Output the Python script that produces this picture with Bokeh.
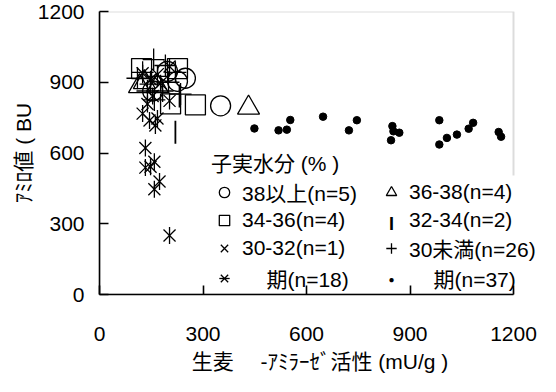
from bokeh.plotting import figure
from bokeh.models import Range1d, FixedTicker, Legend, LegendItem, Label, BoxAnnotation
from bokeh.embed import file_html
from bokeh.resources import INLINE
import math

# ---- data ----
g38_x = [249, 351, 197, 154, 226]
g38_y = [917, 800, 946, 863, 904]
g36_x = [116, 130, 168, 432]
g36_y = [883, 900, 883, 792]
g34_x = [122, 226, 206, 278]
g34_y = [958, 958, 808, 804]
g32_x = [220, 232]
g32_y = [688, 842]
g30_x = [168]
g30_y = [933]
glt_x = [157, 191, 125, 220, 168, 148, 200, 183, 235, 159, 139, 110]
glt_y = [996, 971, 942, 942, 925, 892, 900, 863, 850, 825, 863, 917]
ea_x = [125, 148, 177, 203, 154, 203, 139, 125, 145, 168, 133, 159, 133, 148, 174, 159, 203, 162]
ea_y = [938, 913, 896, 967, 842, 821, 808, 767, 738, 746, 621, 563, 538, 542, 479, 446, 250, 717]
la_x = [449, 519, 543, 553, 648, 723, 746, 849, 869, 845, 852, 985, 985, 1007, 1036, 1070, 1083, 1157, 1164]
la_y = [704, 696, 699, 740, 754, 696, 739, 714, 686, 654, 692, 739, 636, 664, 678, 703, 728, 689, 669]

x_ticks = [0, 300, 600, 900, 1200]
y_ticks = [0, 300, 600, 900, 1200]
X_MAX, Y_MAX = 1200, 1200

x_title = "生麦\u3000 -ｱﾐﾗｰｾﾞ活性 (mU/g )"
y_title = "ｱﾐﾛ値 ( BU"
legend_title = "子実水分 (% )"
labels = ["38以上(n=5)", "34-36(n=4)", "30-32(n=1)", "\u3000\u2006期(n=18)",
          "36-38(n=4)", "32-34(n=2)", "30未満(n=26)", "\u3000\u2006期(n=37)"]

FONT = "'Liberation Sans', 'Noto Sans CJK JP', sans-serif"
FS = "21px"

W, H = 540, 376
LEFT, TOP, BOTTOM = 99, 11, 82
PLOT_W = 414                      # width of the 0..1200 plot area in px
FRAME_W = W - LEFT                # frame runs to the right edge so the legend may overhang
x_end = X_MAX * FRAME_W / PLOT_W

p = figure(width=W, height=H, x_range=Range1d(0, x_end), y_range=Range1d(0, Y_MAX),
           output_backend="svg", toolbar_location=None,
           min_border_left=LEFT, min_border_right=0, min_border_top=TOP, min_border_bottom=BOTTOM)
p.background_fill_color = "white"
p.border_fill_color = "white"
p.outline_line_color = None
p.xgrid.visible = False
p.ygrid.visible = False

# gray plot-area border, hidden behind the legend where the legend overhangs it
p.add_layout(BoxAnnotation(left=0, right=X_MAX, bottom=0, top=Y_MAX, fill_color=None,
                           line_color="#8c8c8c", line_width=2, level="underlay"))

LEG_X, LEG_Y = 112, 1
p.add_layout(BoxAnnotation(left=PLOT_W - 3, right=PLOT_W + 3, bottom=LEG_Y + 5, top=LEG_Y + 118,
                           left_units="screen", right_units="screen",
                           bottom_units="screen", top_units="screen",
                           fill_color="white", fill_alpha=1, line_color=None, level="underlay"))

for ax in (p.xaxis[0], p.yaxis[0]):
    ax.axis_line_color = "black"
    ax.axis_line_width = 1.6
    ax.major_tick_line_color = "black"
    ax.major_tick_line_width = 1.6
    ax.major_tick_in = 9
    ax.major_tick_out = 0
    ax.minor_tick_line_color = None
    ax.major_label_text_font = FONT
    ax.major_label_text_font_size = FS
    ax.major_label_text_color = "black"
    ax.axis_label_text_font = FONT
    ax.axis_label_text_font_size = FS
    ax.axis_label_text_font_style = "normal"
    ax.axis_label_text_color = "black"

p.xaxis.bounds = (0, X_MAX)
p.xaxis.ticker = FixedTicker(ticks=x_ticks)
p.yaxis.ticker = FixedTicker(ticks=y_ticks)
p.xaxis.major_label_standoff = 32
p.yaxis.major_label_standoff = 15
p.xaxis.axis_label = x_title
p.yaxis.axis_label = y_title
p.xaxis.axis_label_standoff = 6
p.yaxis.axis_label_standoff = 0

LW = 1.3
r_la = p.scatter(la_x, la_y, marker="circle", size=7.5, color="black")
r_la_leg = p.scatter(la_x, la_y, marker="circle", size=7.5, alpha=0)
r_ea1 = p.scatter(ea_x, ea_y, marker="x", size=17, line_color="black", line_width=LW)
r_ea2 = p.scatter(ea_x, ea_y, marker="dash", size=17, angle=math.pi / 2, line_color="black", line_width=LW)
r_lt = p.scatter(glt_x, glt_y, marker="cross", size=22, line_color="black", line_width=LW)
r_30 = p.scatter(g30_x, g30_y, marker="x", size=18, line_color="black", line_width=LW)
r_32 = p.scatter(g32_x, g32_y, marker="dash", size=23, angle=math.pi / 2, line_color="black", line_width=1.8)
r_32_leg = p.scatter(g32_x, g32_y, marker="dash", size=23, alpha=0)
r_34 = p.scatter(g34_x, g34_y, marker="square", size=20, line_color="black", fill_color=None, line_width=LW)
r_36 = p.scatter(g36_x, g36_y, marker="triangle", size=22, line_color="black", fill_color=None, line_width=LW)
r_38 = p.scatter(g38_x, g38_y, marker="circle", size=20, line_color="black", fill_color=None, line_width=LW)

GW = 26
STAND = 5
COLW = 167
items = [
    LegendItem(label=labels[0], renderers=[r_38]),
    LegendItem(label=labels[1], renderers=[r_34]),
    LegendItem(label=labels[2], renderers=[r_30]),
    LegendItem(label=labels[3], renderers=[r_ea1, r_ea2]),
    LegendItem(label=labels[4], renderers=[r_36]),
    LegendItem(label=labels[5], renderers=[r_32_leg]),
    LegendItem(label=labels[6], renderers=[r_lt]),
    LegendItem(label=labels[7], renderers=[r_la_leg]),
]
legend = Legend(items=items, location=(LEG_X, LEG_Y), nrows=4, ncols=2,
                title=legend_title, title_text_font=FONT, title_text_font_size=FS,
                title_text_font_style="normal", title_text_color="black", title_standoff=0,
                label_text_font=FONT, label_text_font_size=FS, label_text_color="black",
                glyph_width=GW, glyph_height=GW, label_height=20, label_width=COLW - GW - STAND,
                label_standoff=STAND, spacing=0, padding=0, margin=0,
                border_line_color=None, background_fill_alpha=0)
p.add_layout(legend, "center")

# legend symbols that Bokeh's legend cannot draw (vertical bar, small dot)
ROW_H = 27.7
p.add_layout(Label(x=LEG_X + COLW + GW / 2, y=LEG_Y + ROW_H / 2 + 2 * ROW_H, x_units="screen", y_units="screen",
                   text="I", text_align="center", text_baseline="middle",
                   text_font=FONT, text_font_size="18px", text_font_style="bold", text_color="black"))
p.add_layout(Label(x=LEG_X + COLW + GW / 2, y=LEG_Y + ROW_H / 2, x_units="screen", y_units="screen",
                   text="\u25cf", text_align="center", text_baseline="middle",
                   text_font=FONT, text_font_size="10px", text_color="black"))

open("out.html", "w").write(file_html(p, INLINE))
